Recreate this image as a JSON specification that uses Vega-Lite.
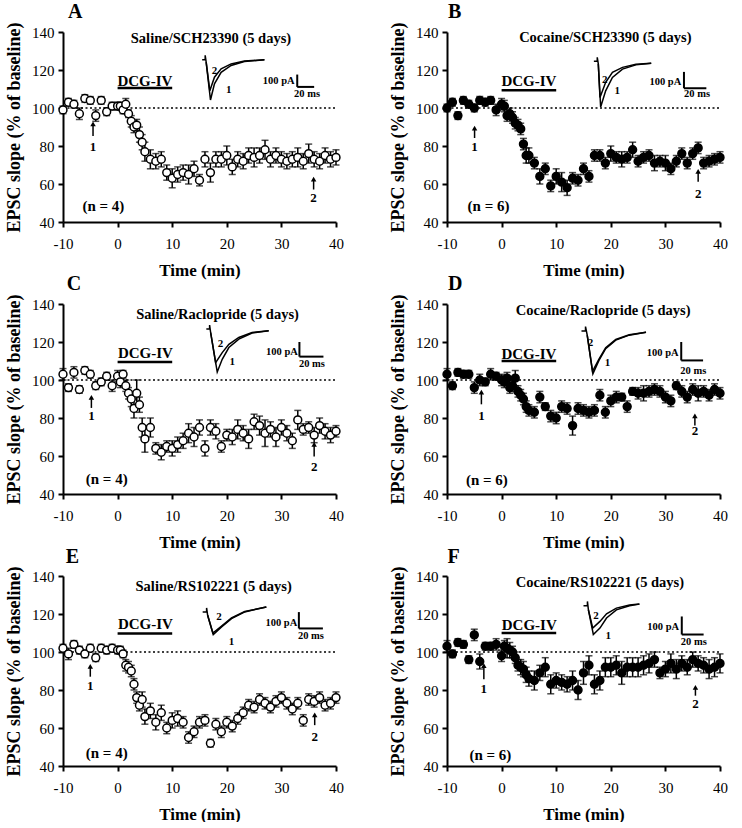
{
"$schema": "https://vega.github.io/schema/vega-lite/v6.json",
"background": "white",
"padding": {"left": 5, "top": 0, "right": 5, "bottom": 0},
"columns": 2,
"spacing": {"row": 82, "column": 111},
"bounds": "flush",
"data": {"values": [
{"k":"pt","panel":"A","t":-10,"v":99,"e":2},{"k":"pt","panel":"A","t":-9,"v":103,"e":2},{"k":"pt","panel":"A","t":-8,"v":102,"e":2},{"k":"pt","panel":"A","t":-7,"v":97,"e":3},{"k":"pt","panel":"A","t":-6,"v":105,"e":2},{"k":"pt","panel":"A","t":-5,"v":104,"e":2},{"k":"pt","panel":"A","t":-4,"v":96,"e":3},{"k":"pt","panel":"A","t":-3,"v":104,"e":2},{"k":"pt","panel":"A","t":-2,"v":98,"e":2},{"k":"pt","panel":"A","t":-1,"v":101,"e":2},
{"k":"pt","panel":"A","t":0,"v":101,"e":2},{"k":"pt","panel":"A","t":0.5,"v":101,"e":2},{"k":"pt","panel":"A","t":1,"v":99,"e":2},{"k":"pt","panel":"A","t":1.5,"v":102,"e":3},{"k":"pt","panel":"A","t":2,"v":97,"e":2},{"k":"pt","panel":"A","t":2.5,"v":93,"e":3},{"k":"pt","panel":"A","t":3,"v":90,"e":3},{"k":"pt","panel":"A","t":3.5,"v":91,"e":3},{"k":"pt","panel":"A","t":4,"v":86,"e":4},{"k":"pt","panel":"A","t":4.5,"v":82,"e":4},
{"k":"pt","panel":"A","t":5,"v":77,"e":5},{"k":"pt","panel":"A","t":6,"v":73,"e":5},{"k":"pt","panel":"A","t":7,"v":72,"e":4},{"k":"pt","panel":"A","t":8,"v":73,"e":4},{"k":"pt","panel":"A","t":9,"v":66,"e":4},{"k":"pt","panel":"A","t":10,"v":63,"e":5},{"k":"pt","panel":"A","t":11,"v":65,"e":4},{"k":"pt","panel":"A","t":12,"v":66,"e":4},{"k":"pt","panel":"A","t":13,"v":65,"e":5},{"k":"pt","panel":"A","t":14,"v":68,"e":4},{"k":"pt","panel":"A","t":15,"v":62,"e":3},{"k":"pt","panel":"A","t":16,"v":73,"e":4},{"k":"pt","panel":"A","t":17,"v":66,"e":5},{"k":"pt","panel":"A","t":18,"v":73,"e":4},{"k":"pt","panel":"A","t":19,"v":73,"e":4},{"k":"pt","panel":"A","t":20,"v":75,"e":5},{"k":"pt","panel":"A","t":21,"v":69,"e":4},{"k":"pt","panel":"A","t":22,"v":73,"e":4},{"k":"pt","panel":"A","t":23,"v":72,"e":4},{"k":"pt","panel":"A","t":24,"v":75,"e":4},{"k":"pt","panel":"A","t":25,"v":74,"e":5},{"k":"pt","panel":"A","t":26,"v":75,"e":4},{"k":"pt","panel":"A","t":27,"v":78,"e":5},{"k":"pt","panel":"A","t":28,"v":73,"e":4},{"k":"pt","panel":"A","t":29,"v":75,"e":4},{"k":"pt","panel":"A","t":30,"v":73,"e":4},{"k":"pt","panel":"A","t":31,"v":72,"e":4},{"k":"pt","panel":"A","t":32,"v":73,"e":4},{"k":"pt","panel":"A","t":33,"v":74,"e":5},{"k":"pt","panel":"A","t":34,"v":72,"e":4},{"k":"pt","panel":"A","t":35,"v":76,"e":5},{"k":"pt","panel":"A","t":36,"v":73,"e":4},{"k":"pt","panel":"A","t":37,"v":72,"e":4},{"k":"pt","panel":"A","t":38,"v":75,"e":4},{"k":"pt","panel":"A","t":39,"v":73,"e":4},{"k":"pt","panel":"A","t":40,"v":74,"e":4},

{"k":"pt","panel":"B","t":-10,"v":100,"e":2},{"k":"pt","panel":"B","t":-9,"v":103,"e":2},{"k":"pt","panel":"B","t":-8,"v":96,"e":2},{"k":"pt","panel":"B","t":-7,"v":104,"e":2},{"k":"pt","panel":"B","t":-6,"v":102,"e":2},{"k":"pt","panel":"B","t":-5,"v":100,"e":2},{"k":"pt","panel":"B","t":-4,"v":104,"e":2},{"k":"pt","panel":"B","t":-3,"v":103,"e":2},{"k":"pt","panel":"B","t":-2,"v":104,"e":2},{"k":"pt","panel":"B","t":-1,"v":99,"e":3},
{"k":"pt","panel":"B","t":0,"v":102,"e":3},{"k":"pt","panel":"B","t":0.5,"v":101,"e":3},{"k":"pt","panel":"B","t":1,"v":96,"e":3},{"k":"pt","panel":"B","t":1.5,"v":97,"e":3},{"k":"pt","panel":"B","t":2,"v":95,"e":3},{"k":"pt","panel":"B","t":2.5,"v":92,"e":3},{"k":"pt","panel":"B","t":3,"v":91,"e":3},{"k":"pt","panel":"B","t":3.5,"v":89,"e":3},{"k":"pt","panel":"B","t":4,"v":81,"e":3},{"k":"pt","panel":"B","t":4.5,"v":75,"e":4},
{"k":"pt","panel":"B","t":5,"v":75,"e":4},{"k":"pt","panel":"B","t":6,"v":71,"e":3},{"k":"pt","panel":"B","t":7,"v":64,"e":4},{"k":"pt","panel":"B","t":8,"v":68,"e":3},{"k":"pt","panel":"B","t":9,"v":59,"e":3},{"k":"pt","panel":"B","t":10,"v":64,"e":4},{"k":"pt","panel":"B","t":11,"v":61,"e":5},{"k":"pt","panel":"B","t":12,"v":58,"e":4},{"k":"pt","panel":"B","t":13,"v":63,"e":3},{"k":"pt","panel":"B","t":14,"v":62,"e":3},{"k":"pt","panel":"B","t":15,"v":68,"e":3},{"k":"pt","panel":"B","t":16,"v":64,"e":3},{"k":"pt","panel":"B","t":17,"v":75,"e":3},{"k":"pt","panel":"B","t":18,"v":75,"e":3},{"k":"pt","panel":"B","t":19,"v":71,"e":3},{"k":"pt","panel":"B","t":20,"v":76,"e":4},{"k":"pt","panel":"B","t":21,"v":74,"e":3},{"k":"pt","panel":"B","t":22,"v":73,"e":4},{"k":"pt","panel":"B","t":23,"v":74,"e":3},{"k":"pt","panel":"B","t":24,"v":78,"e":4},{"k":"pt","panel":"B","t":25,"v":72,"e":3},{"k":"pt","panel":"B","t":26,"v":74,"e":3},{"k":"pt","panel":"B","t":27,"v":75,"e":3},{"k":"pt","panel":"B","t":28,"v":71,"e":4},{"k":"pt","panel":"B","t":29,"v":72,"e":3},{"k":"pt","panel":"B","t":30,"v":71,"e":4},{"k":"pt","panel":"B","t":31,"v":68,"e":3},{"k":"pt","panel":"B","t":32,"v":72,"e":3},{"k":"pt","panel":"B","t":33,"v":76,"e":3},{"k":"pt","panel":"B","t":34,"v":71,"e":3},{"k":"pt","panel":"B","t":35,"v":76,"e":3},{"k":"pt","panel":"B","t":36,"v":79,"e":3},{"k":"pt","panel":"B","t":37,"v":71,"e":3},{"k":"pt","panel":"B","t":38,"v":72,"e":3},{"k":"pt","panel":"B","t":39,"v":73,"e":3},{"k":"pt","panel":"B","t":40,"v":74,"e":3},

{"k":"pt","panel":"C","t":-10,"v":103,"e":3},{"k":"pt","panel":"C","t":-9,"v":96,"e":2},{"k":"pt","panel":"C","t":-8,"v":104,"e":3},{"k":"pt","panel":"C","t":-7,"v":95,"e":2},{"k":"pt","panel":"C","t":-6,"v":105,"e":2},{"k":"pt","panel":"C","t":-5,"v":103,"e":2},{"k":"pt","panel":"C","t":-4,"v":97,"e":2},{"k":"pt","panel":"C","t":-3,"v":99,"e":2},{"k":"pt","panel":"C","t":-2,"v":102,"e":2},{"k":"pt","panel":"C","t":-1,"v":97,"e":3},
{"k":"pt","panel":"C","t":0,"v":102,"e":3},{"k":"pt","panel":"C","t":0.5,"v":99,"e":3},{"k":"pt","panel":"C","t":1,"v":103,"e":2},{"k":"pt","panel":"C","t":1.5,"v":97,"e":3},{"k":"pt","panel":"C","t":2,"v":93,"e":3},{"k":"pt","panel":"C","t":2.5,"v":90,"e":4},{"k":"pt","panel":"C","t":3,"v":85,"e":5},{"k":"pt","panel":"C","t":3.5,"v":93,"e":7},{"k":"pt","panel":"C","t":4,"v":87,"e":4},{"k":"pt","panel":"C","t":4.5,"v":75,"e":5},
{"k":"pt","panel":"C","t":5,"v":69,"e":7},{"k":"pt","panel":"C","t":6,"v":75,"e":5},{"k":"pt","panel":"C","t":7,"v":64,"e":3},{"k":"pt","panel":"C","t":8,"v":62,"e":4},{"k":"pt","panel":"C","t":9,"v":65,"e":3},{"k":"pt","panel":"C","t":10,"v":64,"e":4},{"k":"pt","panel":"C","t":11,"v":66,"e":4},{"k":"pt","panel":"C","t":12,"v":68,"e":4},{"k":"pt","panel":"C","t":13,"v":72,"e":5},{"k":"pt","panel":"C","t":14,"v":70,"e":5},{"k":"pt","panel":"C","t":15,"v":75,"e":4},{"k":"pt","panel":"C","t":16,"v":64,"e":4},{"k":"pt","panel":"C","t":17,"v":75,"e":4},{"k":"pt","panel":"C","t":18,"v":73,"e":4},{"k":"pt","panel":"C","t":19,"v":65,"e":3},{"k":"pt","panel":"C","t":20,"v":71,"e":3},{"k":"pt","panel":"C","t":21,"v":70,"e":4},{"k":"pt","panel":"C","t":22,"v":74,"e":5},{"k":"pt","panel":"C","t":23,"v":72,"e":4},{"k":"pt","panel":"C","t":24,"v":69,"e":5},{"k":"pt","panel":"C","t":25,"v":78,"e":4},{"k":"pt","panel":"C","t":26,"v":76,"e":5},{"k":"pt","panel":"C","t":27,"v":72,"e":7},{"k":"pt","panel":"C","t":28,"v":74,"e":4},{"k":"pt","panel":"C","t":29,"v":70,"e":5},{"k":"pt","panel":"C","t":30,"v":75,"e":4},{"k":"pt","panel":"C","t":31,"v":72,"e":4},{"k":"pt","panel":"C","t":32,"v":68,"e":4},{"k":"pt","panel":"C","t":33,"v":79,"e":5},{"k":"pt","panel":"C","t":34,"v":74,"e":3},{"k":"pt","panel":"C","t":35,"v":75,"e":3},{"k":"pt","panel":"C","t":36,"v":71,"e":4},{"k":"pt","panel":"C","t":37,"v":76,"e":4},{"k":"pt","panel":"C","t":38,"v":73,"e":4},{"k":"pt","panel":"C","t":39,"v":71,"e":4},{"k":"pt","panel":"C","t":40,"v":73,"e":3},

{"k":"pt","panel":"D","t":-10,"v":103,"e":3},{"k":"pt","panel":"D","t":-9,"v":97,"e":2},{"k":"pt","panel":"D","t":-8,"v":104,"e":2},{"k":"pt","panel":"D","t":-7,"v":103,"e":2},{"k":"pt","panel":"D","t":-6,"v":103,"e":2},{"k":"pt","panel":"D","t":-5,"v":96,"e":3},{"k":"pt","panel":"D","t":-4,"v":100,"e":3},{"k":"pt","panel":"D","t":-3,"v":99,"e":2},{"k":"pt","panel":"D","t":-2,"v":103,"e":3},{"k":"pt","panel":"D","t":-1,"v":102,"e":2},
{"k":"pt","panel":"D","t":0,"v":100,"e":3},{"k":"pt","panel":"D","t":0.5,"v":99,"e":3},{"k":"pt","panel":"D","t":1,"v":101,"e":3},{"k":"pt","panel":"D","t":1.5,"v":96,"e":3},{"k":"pt","panel":"D","t":2,"v":97,"e":3},{"k":"pt","panel":"D","t":2.5,"v":101,"e":4},{"k":"pt","panel":"D","t":3,"v":94,"e":3},{"k":"pt","panel":"D","t":3.5,"v":92,"e":3},{"k":"pt","panel":"D","t":4,"v":90,"e":3},{"k":"pt","panel":"D","t":4.5,"v":86,"e":3},
{"k":"pt","panel":"D","t":5,"v":84,"e":3},{"k":"pt","panel":"D","t":6,"v":83,"e":3},{"k":"pt","panel":"D","t":7,"v":91,"e":3},{"k":"pt","panel":"D","t":8,"v":86,"e":2},{"k":"pt","panel":"D","t":9,"v":81,"e":3},{"k":"pt","panel":"D","t":10,"v":80,"e":3},{"k":"pt","panel":"D","t":11,"v":86,"e":3},{"k":"pt","panel":"D","t":12,"v":85,"e":3},{"k":"pt","panel":"D","t":13,"v":76,"e":5},{"k":"pt","panel":"D","t":14,"v":85,"e":3},{"k":"pt","panel":"D","t":15,"v":84,"e":3},{"k":"pt","panel":"D","t":16,"v":83,"e":3},{"k":"pt","panel":"D","t":17,"v":84,"e":3},{"k":"pt","panel":"D","t":18,"v":92,"e":3},{"k":"pt","panel":"D","t":19,"v":83,"e":3},{"k":"pt","panel":"D","t":20,"v":89,"e":3},{"k":"pt","panel":"D","t":21,"v":91,"e":3},{"k":"pt","panel":"D","t":22,"v":91,"e":2},{"k":"pt","panel":"D","t":23,"v":86,"e":3},{"k":"pt","panel":"D","t":24,"v":94,"e":2},{"k":"pt","panel":"D","t":25,"v":93,"e":3},{"k":"pt","panel":"D","t":26,"v":93,"e":4},{"k":"pt","panel":"D","t":27,"v":94,"e":3},{"k":"pt","panel":"D","t":28,"v":95,"e":3},{"k":"pt","panel":"D","t":29,"v":94,"e":3},{"k":"pt","panel":"D","t":30,"v":91,"e":3},{"k":"pt","panel":"D","t":31,"v":89,"e":3},{"k":"pt","panel":"D","t":32,"v":97,"e":2},{"k":"pt","panel":"D","t":33,"v":94,"e":3},{"k":"pt","panel":"D","t":34,"v":91,"e":3},{"k":"pt","panel":"D","t":35,"v":95,"e":3},{"k":"pt","panel":"D","t":36,"v":93,"e":4},{"k":"pt","panel":"D","t":37,"v":94,"e":3},{"k":"pt","panel":"D","t":38,"v":92,"e":3},{"k":"pt","panel":"D","t":39,"v":95,"e":3},{"k":"pt","panel":"D","t":40,"v":93,"e":3},

{"k":"pt","panel":"E","t":-10,"v":102,"e":2},{"k":"pt","panel":"E","t":-9,"v":99,"e":3},{"k":"pt","panel":"E","t":-8,"v":104,"e":2},{"k":"pt","panel":"E","t":-7,"v":101,"e":2},{"k":"pt","panel":"E","t":-6,"v":99,"e":2},{"k":"pt","panel":"E","t":-5,"v":102,"e":2},{"k":"pt","panel":"E","t":-4,"v":97,"e":2},{"k":"pt","panel":"E","t":-3,"v":102,"e":2},{"k":"pt","panel":"E","t":-2,"v":101,"e":2},{"k":"pt","panel":"E","t":-1,"v":102,"e":2},
{"k":"pt","panel":"E","t":0,"v":101,"e":2},{"k":"pt","panel":"E","t":0.5,"v":101,"e":2},{"k":"pt","panel":"E","t":1,"v":99,"e":2},{"k":"pt","panel":"E","t":1.5,"v":93,"e":3},{"k":"pt","panel":"E","t":2,"v":92,"e":3},{"k":"pt","panel":"E","t":2.5,"v":90,"e":3},{"k":"pt","panel":"E","t":3,"v":83,"e":3},{"k":"pt","panel":"E","t":3.5,"v":76,"e":3},{"k":"pt","panel":"E","t":4,"v":72,"e":3},{"k":"pt","panel":"E","t":4.5,"v":75,"e":4},
{"k":"pt","panel":"E","t":5,"v":66,"e":4},{"k":"pt","panel":"E","t":6,"v":69,"e":4},{"k":"pt","panel":"E","t":7,"v":63,"e":4},{"k":"pt","panel":"E","t":8,"v":68,"e":4},{"k":"pt","panel":"E","t":9,"v":60,"e":3},{"k":"pt","panel":"E","t":10,"v":64,"e":4},{"k":"pt","panel":"E","t":11,"v":65,"e":4},{"k":"pt","panel":"E","t":12,"v":63,"e":3},{"k":"pt","panel":"E","t":13,"v":55,"e":3},{"k":"pt","panel":"E","t":14,"v":58,"e":3},{"k":"pt","panel":"E","t":15,"v":63,"e":3},{"k":"pt","panel":"E","t":16,"v":64,"e":3},{"k":"pt","panel":"E","t":17,"v":52,"e":2},{"k":"pt","panel":"E","t":18,"v":62,"e":3},{"k":"pt","panel":"E","t":19,"v":58,"e":3},{"k":"pt","panel":"E","t":20,"v":63,"e":3},{"k":"pt","panel":"E","t":21,"v":61,"e":3},{"k":"pt","panel":"E","t":22,"v":65,"e":3},{"k":"pt","panel":"E","t":23,"v":68,"e":3},{"k":"pt","panel":"E","t":24,"v":72,"e":3},{"k":"pt","panel":"E","t":25,"v":71,"e":3},{"k":"pt","panel":"E","t":26,"v":75,"e":3},{"k":"pt","panel":"E","t":27,"v":73,"e":3},{"k":"pt","panel":"E","t":28,"v":71,"e":3},{"k":"pt","panel":"E","t":29,"v":74,"e":3},{"k":"pt","panel":"E","t":30,"v":76,"e":3},{"k":"pt","panel":"E","t":31,"v":73,"e":3},{"k":"pt","panel":"E","t":32,"v":70,"e":3},{"k":"pt","panel":"E","t":33,"v":73,"e":3},{"k":"pt","panel":"E","t":34,"v":64,"e":3},{"k":"pt","panel":"E","t":35,"v":75,"e":3},{"k":"pt","panel":"E","t":36,"v":74,"e":3},{"k":"pt","panel":"E","t":37,"v":76,"e":3},{"k":"pt","panel":"E","t":38,"v":72,"e":3},{"k":"pt","panel":"E","t":39,"v":73,"e":3},{"k":"pt","panel":"E","t":40,"v":76,"e":3},

{"k":"pt","panel":"F","t":-10,"v":103,"e":3},{"k":"pt","panel":"F","t":-9,"v":99,"e":2},{"k":"pt","panel":"F","t":-8,"v":105,"e":2},{"k":"pt","panel":"F","t":-7,"v":104,"e":2},{"k":"pt","panel":"F","t":-6,"v":96,"e":2},{"k":"pt","panel":"F","t":-5,"v":109,"e":3},{"k":"pt","panel":"F","t":-4,"v":95,"e":4},{"k":"pt","panel":"F","t":-3,"v":103,"e":2},{"k":"pt","panel":"F","t":-2,"v":103,"e":2},{"k":"pt","panel":"F","t":-1,"v":104,"e":3},
{"k":"pt","panel":"F","t":0,"v":98,"e":3},{"k":"pt","panel":"F","t":0.5,"v":103,"e":3},{"k":"pt","panel":"F","t":1,"v":102,"e":5},{"k":"pt","panel":"F","t":1.5,"v":101,"e":4},{"k":"pt","panel":"F","t":2,"v":100,"e":3},{"k":"pt","panel":"F","t":2.5,"v":97,"e":3},{"k":"pt","panel":"F","t":3,"v":93,"e":3},{"k":"pt","panel":"F","t":3.5,"v":92,"e":4},{"k":"pt","panel":"F","t":4,"v":91,"e":4},{"k":"pt","panel":"F","t":4.5,"v":88,"e":4},
{"k":"pt","panel":"F","t":5,"v":86,"e":4},{"k":"pt","panel":"F","t":6,"v":85,"e":5},{"k":"pt","panel":"F","t":7,"v":89,"e":4},{"k":"pt","panel":"F","t":8,"v":92,"e":5},{"k":"pt","panel":"F","t":9,"v":83,"e":5},{"k":"pt","panel":"F","t":10,"v":85,"e":4},{"k":"pt","panel":"F","t":11,"v":84,"e":4},{"k":"pt","panel":"F","t":12,"v":83,"e":4},{"k":"pt","panel":"F","t":13,"v":85,"e":5},{"k":"pt","panel":"F","t":14,"v":80,"e":5},{"k":"pt","panel":"F","t":15,"v":89,"e":6},{"k":"pt","panel":"F","t":16,"v":93,"e":5},{"k":"pt","panel":"F","t":17,"v":83,"e":5},{"k":"pt","panel":"F","t":18,"v":85,"e":5},{"k":"pt","panel":"F","t":19,"v":92,"e":5},{"k":"pt","panel":"F","t":20,"v":92,"e":5},{"k":"pt","panel":"F","t":21,"v":93,"e":5},{"k":"pt","panel":"F","t":22,"v":89,"e":6},{"k":"pt","panel":"F","t":23,"v":92,"e":5},{"k":"pt","panel":"F","t":24,"v":92,"e":5},{"k":"pt","panel":"F","t":25,"v":92,"e":5},{"k":"pt","panel":"F","t":26,"v":93,"e":5},{"k":"pt","panel":"F","t":27,"v":94,"e":5},{"k":"pt","panel":"F","t":28,"v":96,"e":4},{"k":"pt","panel":"F","t":29,"v":89,"e":3},{"k":"pt","panel":"F","t":30,"v":91,"e":4},{"k":"pt","panel":"F","t":31,"v":94,"e":5},{"k":"pt","panel":"F","t":32,"v":91,"e":5},{"k":"pt","panel":"F","t":33,"v":94,"e":4},{"k":"pt","panel":"F","t":34,"v":92,"e":4},{"k":"pt","panel":"F","t":35,"v":96,"e":4},{"k":"pt","panel":"F","t":36,"v":94,"e":4},{"k":"pt","panel":"F","t":37,"v":93,"e":4},{"k":"pt","panel":"F","t":38,"v":91,"e":5},{"k":"pt","panel":"F","t":39,"v":92,"e":5},{"k":"pt","panel":"F","t":40,"v":94,"e":5},

{"k":"base","panel":"A","t":-10,"t2":40,"v":100},{"k":"base","panel":"B","t":-10,"t2":40,"v":100},{"k":"base","panel":"C","t":-10,"t2":40,"v":100},{"k":"base","panel":"D","t":-10,"t2":40,"v":100},{"k":"base","panel":"E","t":-10,"t2":40,"v":100},{"k":"base","panel":"F","t":-10,"t2":40,"v":100},

{"k":"bar","panel":"A","t":0,"t2":10,"v":110.5,"v2":110.5},{"k":"sc","panel":"A","t":32.9,"t2":32.9,"v":111.1,"v2":117.6},{"k":"sc","panel":"A","t":32.9,"t2":36.0,"v":111.1,"v2":111.1},{"k":"sh","panel":"A","t":-4.5,"t2":-4.5,"v":85.3,"v2":91.7},{"k":"sh","panel":"A","t":35.9,"t2":35.9,"v":57.1,"v2":62.6},
{"k":"bar","panel":"B","t":0,"t2":10,"v":109.4,"v2":109.4},{"k":"sc","panel":"B","t":33.4,"t2":33.4,"v":110.4,"v2":119},{"k":"sc","panel":"B","t":33.4,"t2":37.5,"v":110.4,"v2":110.4},{"k":"sh","panel":"B","t":-4.95,"t2":-4.95,"v":84.2,"v2":89.4},{"k":"sh","panel":"B","t":36,"t2":36,"v":61.2,"v2":66.7},
{"k":"bar","panel":"C","t":0,"t2":10,"v":109.5,"v2":109.5},{"k":"sc","panel":"C","t":33.3,"t2":33.3,"v":112.3,"v2":120},{"k":"sc","panel":"C","t":33.3,"t2":37.7,"v":112.3,"v2":112.3},{"k":"sh","panel":"C","t":-4.8,"t2":-4.8,"v":85.3,"v2":90.8},{"k":"sh","panel":"C","t":36,"t2":36,"v":59.8,"v2":66.1},
{"k":"bar","panel":"D","t":0,"t2":10,"v":110,"v2":110},{"k":"sc","panel":"D","t":32.9,"t2":32.9,"v":110.3,"v2":120},{"k":"sc","panel":"D","t":32.9,"t2":36.9,"v":110.3,"v2":110.3},{"k":"sh","panel":"D","t":-3.7,"t2":-3.7,"v":87.2,"v2":93.6},{"k":"sh","panel":"D","t":35.4,"t2":35.4,"v":76,"v2":81.1},
{"k":"bar","panel":"E","t":0,"t2":10,"v":109.7,"v2":109.7},{"k":"sc","panel":"E","t":33.2,"t2":33.2,"v":112.4,"v2":121},{"k":"sc","panel":"E","t":33.2,"t2":37.6,"v":112.4,"v2":112.4},{"k":"sh","panel":"E","t":-5,"t2":-5,"v":87,"v2":92.4},{"k":"sh","panel":"E","t":36.1,"t2":36.1,"v":61.5,"v2":66.9},
{"k":"bar","panel":"F","t":0,"t2":10,"v":110,"v2":110},{"k":"sc","panel":"F","t":33,"t2":33,"v":109.2,"v2":118.7},{"k":"sc","panel":"F","t":33,"t2":37,"v":109.2,"v2":109.2},{"k":"sh","panel":"F","t":-3.25,"t2":-3.25,"v":85.6,"v2":92.8},{"k":"sh","panel":"F","t":35.5,"t2":35.5,"v":77,"v2":81.4},

{"k":"head","panel":"A","t":-4.5,"v":91.7},{"k":"head","panel":"A","t":35.9,"v":62.6},
{"k":"head","panel":"B","t":-4.95,"v":89.4},{"k":"head","panel":"B","t":36,"v":66.7},
{"k":"head","panel":"C","t":-4.8,"v":90.8},{"k":"head","panel":"C","t":36,"v":66.1},
{"k":"head","panel":"D","t":-3.7,"v":93.6},{"k":"head","panel":"D","t":35.4,"v":81.1},
{"k":"head","panel":"E","t":-5,"v":92.4},{"k":"head","panel":"E","t":36.1,"v":66.9},
{"k":"head","panel":"F","t":-3.25,"v":92.8},{"k":"head","panel":"F","t":35.5,"v":81.4},

{"k":"ltr","panel":"A","t":-9.1,"v":150.7,"s":"A"},{"k":"ltr","panel":"B","t":-9.8,"v":150.7,"s":"B"},{"k":"ltr","panel":"C","t":-9.3,"v":150.7,"s":"C"},{"k":"ltr","panel":"D","t":-9.8,"v":150.7,"s":"D"},{"k":"ltr","panel":"E","t":-9.5,"v":149.8,"s":"E"},{"k":"ltr","panel":"F","t":-9.9,"v":149.8,"s":"F"},

{"k":"ttl","panel":"A","t":17.1,"v":136.5,"s":"Saline/SCH23390 (5 days)"},{"k":"dcg","panel":"A","t":5,"v":114,"s":"DCG-IV"},{"k":"n","panel":"A","t":-2.6,"v":48.3,"s":"(n = 4)"},{"k":"al","panel":"A","t":-4.5,"v":79.5,"s":"1"},{"k":"al","panel":"A","t":35.9,"v":52.7,"s":"2"},{"k":"sb","panel":"A","t":29.5,"v":114.4,"s":"100 pA"},{"k":"sb","panel":"A","t":34.7,"v":107.6,"s":"20 ms"},{"k":"tl","panel":"A","t":17.74,"v":119.7,"s":"2"},{"k":"tl","panel":"A","t":20.37,"v":109.5,"s":"1"},
{"k":"ttl","panel":"B","t":19.0,"v":137,"s":"Cocaine/SCH23390 (5 days)"},{"k":"dcg","panel":"B","t":5,"v":114.3,"s":"DCG-IV"},{"k":"n","panel":"B","t":-2.4,"v":48.5,"s":"(n = 6)"},{"k":"al","panel":"B","t":-4.95,"v":79.5,"s":"1"},{"k":"al","panel":"B","t":36,"v":55,"s":"2"},{"k":"sb","panel":"B","t":30.0,"v":113.8,"s":"100 pA"},{"k":"sb","panel":"B","t":35.8,"v":107.3,"s":"20 ms"},{"k":"tl","panel":"B","t":18.9,"v":114.7,"s":"2"},{"k":"tl","panel":"B","t":21.2,"v":109,"s":"1"},
{"k":"ttl","panel":"C","t":18.3,"v":134,"s":"Saline/Raclopride (5 days)"},{"k":"dcg","panel":"C","t":5.1,"v":114.4,"s":"DCG-IV"},{"k":"n","panel":"C","t":-2.0,"v":47.8,"s":"(n = 4)"},{"k":"al","panel":"C","t":-4.8,"v":80.8,"s":"1"},{"k":"al","panel":"C","t":36,"v":54.1,"s":"2"},{"k":"sb","panel":"C","t":30.1,"v":114.8,"s":"100 pA"},{"k":"sb","panel":"C","t":35.6,"v":108.6,"s":"20 ms"},{"k":"tl","panel":"C","t":18.86,"v":118.8,"s":"2"},{"k":"tl","panel":"C","t":20.98,"v":109.7,"s":"1"},
{"k":"ttl","panel":"D","t":18.6,"v":136.4,"s":"Cocaine/Raclopride (5 days)"},{"k":"dcg","panel":"D","t":5,"v":113.5,"s":"DCG-IV"},{"k":"n","panel":"D","t":-2.7,"v":47.5,"s":"(n = 6)"},{"k":"al","panel":"D","t":-3.7,"v":80.9,"s":"1"},{"k":"al","panel":"D","t":35.4,"v":73,"s":"2"},{"k":"sb","panel":"D","t":29.5,"v":114.2,"s":"100 pA"},{"k":"sb","panel":"D","t":35.1,"v":104.8,"s":"20 ms"},{"k":"tl","panel":"D","t":16.3,"v":119.7,"s":"2"},{"k":"tl","panel":"D","t":19.4,"v":109,"s":"1"},
{"k":"ttl","panel":"E","t":17.6,"v":134.2,"s":"Saline/RS102221 (5 days)"},{"k":"dcg","panel":"E","t":5.1,"v":114.8,"s":"DCG-IV"},{"k":"n","panel":"E","t":-2.0,"v":46.7,"s":"(n = 4)"},{"k":"al","panel":"E","t":-5,"v":82,"s":"1"},{"k":"al","panel":"E","t":36.1,"v":55.4,"s":"2"},{"k":"sb","panel":"E","t":30.0,"v":115.5,"s":"100 pA"},{"k":"sb","panel":"E","t":35.4,"v":108.5,"s":"20 ms"},{"k":"tl","panel":"E","t":18.55,"v":118.5,"s":"2"},{"k":"tl","panel":"E","t":20.86,"v":105.3,"s":"1"},
{"k":"ttl","panel":"F","t":18.0,"v":136.5,"s":"Cocaine/RS102221 (5 days)"},{"k":"dcg","panel":"F","t":5.06,"v":114.4,"s":"DCG-IV"},{"k":"n","panel":"F","t":-2.05,"v":45.6,"s":"(n = 6)"},{"k":"al","panel":"F","t":-3.25,"v":80.4,"s":"1"},{"k":"al","panel":"F","t":35.5,"v":72.6,"s":"2"},{"k":"sb","panel":"F","t":29.6,"v":113.2,"s":"100 pA"},{"k":"sb","panel":"F","t":35.2,"v":105.2,"s":"20 ms"},{"k":"tl","panel":"F","t":17.29,"v":118.7,"s":"2"},{"k":"tl","panel":"F","t":19.52,"v":108.3,"s":"1"},

{"k":"tr","panel":"A","s":"1","o":1,"t":15.49,"v":125.4},{"k":"tr","panel":"A","s":"1","o":2,"t":16.04,"v":125.4},{"k":"tr","panel":"A","s":"1","o":3,"t":16.04,"v":127.7},{"k":"tr","panel":"A","s":"1","o":4,"t":16.22,"v":124.1},{"k":"tr","panel":"A","s":"1","o":5,"t":17.01,"v":104.2},{"k":"tr","panel":"A","s":"1","o":6,"t":17.74,"v":112.7},{"k":"tr","panel":"A","s":"1","o":7,"t":18.96,"v":118.8},{"k":"tr","panel":"A","s":"1","o":8,"t":20.79,"v":122.4},{"k":"tr","panel":"A","s":"1","o":9,"t":23.23,"v":124.5},{"k":"tr","panel":"A","s":"1","o":10,"t":26.89,"v":125.4},
{"k":"tr","panel":"A","s":"2","o":1,"t":16.22,"v":124.1},{"k":"tr","panel":"A","s":"2","o":2,"t":16.89,"v":109.1},{"k":"tr","panel":"A","s":"2","o":3,"t":17.74,"v":116.2},{"k":"tr","panel":"A","s":"2","o":4,"t":18.96,"v":120.6},{"k":"tr","panel":"A","s":"2","o":5,"t":20.79,"v":123.2},{"k":"tr","panel":"A","s":"2","o":6,"t":23.23,"v":124.7},{"k":"tr","panel":"A","s":"2","o":7,"t":26.89,"v":125.4},
{"k":"tr","panel":"B","s":"1","o":1,"t":16.9,"v":124.6},{"k":"tr","panel":"B","s":"1","o":2,"t":17.52,"v":124.6},{"k":"tr","panel":"B","s":"1","o":3,"t":17.52,"v":126.7},{"k":"tr","panel":"B","s":"1","o":4,"t":17.71,"v":123.2},{"k":"tr","panel":"B","s":"1","o":5,"t":18.14,"v":100.5},{"k":"tr","panel":"B","s":"1","o":6,"t":19.06,"v":109},{"k":"tr","panel":"B","s":"1","o":7,"t":20.3,"v":116.1},{"k":"tr","panel":"B","s":"1","o":8,"t":22.14,"v":120.5},{"k":"tr","panel":"B","s":"1","o":9,"t":24.6,"v":122.7},{"k":"tr","panel":"B","s":"1","o":10,"t":27.4,"v":123.5},
{"k":"tr","panel":"B","s":"2","o":1,"t":17.71,"v":123.2},{"k":"tr","panel":"B","s":"2","o":2,"t":18.02,"v":105.5},{"k":"tr","panel":"B","s":"2","o":3,"t":19.06,"v":113.5},{"k":"tr","panel":"B","s":"2","o":4,"t":20.3,"v":118.8},{"k":"tr","panel":"B","s":"2","o":5,"t":22.14,"v":121.4},{"k":"tr","panel":"B","s":"2","o":6,"t":24.6,"v":123},{"k":"tr","panel":"B","s":"2","o":7,"t":27.4,"v":123.5},
{"k":"tr","panel":"C","s":"1","o":1,"t":16.25,"v":126.8},{"k":"tr","panel":"C","s":"1","o":2,"t":16.85,"v":126.8},{"k":"tr","panel":"C","s":"1","o":3,"t":16.85,"v":128.9},{"k":"tr","panel":"C","s":"1","o":4,"t":17.04,"v":125},{"k":"tr","panel":"C","s":"1","o":5,"t":18.25,"v":104.2},{"k":"tr","panel":"C","s":"1","o":6,"t":19.16,"v":110.9},{"k":"tr","panel":"C","s":"1","o":7,"t":20.38,"v":117.1},{"k":"tr","panel":"C","s":"1","o":8,"t":22.2,"v":121.5},{"k":"tr","panel":"C","s":"1","o":9,"t":24.63,"v":124.7},{"k":"tr","panel":"C","s":"1","o":10,"t":27.67,"v":125.9},
{"k":"tr","panel":"C","s":"2","o":1,"t":17.04,"v":125},{"k":"tr","panel":"C","s":"2","o":2,"t":17.95,"v":109.1},{"k":"tr","panel":"C","s":"2","o":3,"t":19.16,"v":114.4},{"k":"tr","panel":"C","s":"2","o":4,"t":20.38,"v":118.8},{"k":"tr","panel":"C","s":"2","o":5,"t":22.2,"v":122.4},{"k":"tr","panel":"C","s":"2","o":6,"t":24.63,"v":125},{"k":"tr","panel":"C","s":"2","o":7,"t":27.67,"v":125.9},
{"k":"tr","panel":"D","s":"1","o":1,"t":14.63,"v":125.8},{"k":"tr","panel":"D","s":"1","o":2,"t":15.37,"v":125.8},{"k":"tr","panel":"D","s":"1","o":3,"t":15.37,"v":128.1},{"k":"tr","panel":"D","s":"1","o":4,"t":15.68,"v":123.6},{"k":"tr","panel":"D","s":"1","o":5,"t":16.72,"v":103.2},{"k":"tr","panel":"D","s":"1","o":6,"t":17.83,"v":110.3},{"k":"tr","panel":"D","s":"1","o":7,"t":19.06,"v":116.5},{"k":"tr","panel":"D","s":"1","o":8,"t":20.91,"v":121},{"k":"tr","panel":"D","s":"1","o":9,"t":23.37,"v":123.6},{"k":"tr","panel":"D","s":"1","o":10,"t":26.45,"v":125.1},
{"k":"tr","panel":"D","s":"2","o":1,"t":15.68,"v":123.6},{"k":"tr","panel":"D","s":"2","o":2,"t":16.65,"v":104.6},{"k":"tr","panel":"D","s":"2","o":3,"t":17.83,"v":111},{"k":"tr","panel":"D","s":"2","o":4,"t":19.06,"v":117},{"k":"tr","panel":"D","s":"2","o":5,"t":20.91,"v":121.3},{"k":"tr","panel":"D","s":"2","o":6,"t":23.37,"v":123.8},{"k":"tr","panel":"D","s":"2","o":7,"t":26.45,"v":125.1},
{"k":"tr","panel":"E","s":"1","o":1,"t":15.58,"v":121.1},{"k":"tr","panel":"E","s":"1","o":2,"t":16.3,"v":121.1},{"k":"tr","panel":"E","s":"1","o":3,"t":16.3,"v":123.2},{"k":"tr","panel":"E","s":"1","o":4,"t":16.49,"v":119.3},{"k":"tr","panel":"E","s":"1","o":5,"t":17.52,"v":109.2},{"k":"tr","panel":"E","s":"1","o":6,"t":19.04,"v":113.2},{"k":"tr","panel":"E","s":"1","o":7,"t":20.86,"v":117.6},{"k":"tr","panel":"E","s":"1","o":8,"t":23.29,"v":121.1},{"k":"tr","panel":"E","s":"1","o":9,"t":27.24,"v":123.7},
{"k":"tr","panel":"E","s":"2","o":1,"t":16.49,"v":119.3},{"k":"tr","panel":"E","s":"2","o":2,"t":17.45,"v":110},{"k":"tr","panel":"E","s":"2","o":3,"t":19.04,"v":113.6},{"k":"tr","panel":"E","s":"2","o":4,"t":20.86,"v":117.9},{"k":"tr","panel":"E","s":"2","o":5,"t":23.29,"v":121.3},{"k":"tr","panel":"E","s":"2","o":6,"t":27.24,"v":123.7},
{"k":"tr","panel":"F","s":"1","o":1,"t":15,"v":124.3},{"k":"tr","panel":"F","s":"1","o":2,"t":15.72,"v":124.3},{"k":"tr","panel":"F","s":"1","o":3,"t":15.72,"v":126.6},{"k":"tr","panel":"F","s":"1","o":4,"t":15.9,"v":122.2},{"k":"tr","panel":"F","s":"1","o":5,"t":16.8,"v":109.2},{"k":"tr","panel":"F","s":"1","o":6,"t":18.01,"v":112.6},{"k":"tr","panel":"F","s":"1","o":7,"t":19.22,"v":117.9},{"k":"tr","panel":"F","s":"1","o":8,"t":21.02,"v":122.2},{"k":"tr","panel":"F","s":"1","o":9,"t":23.43,"v":124.3},{"k":"tr","panel":"F","s":"1","o":10,"t":25.24,"v":125.2},
{"k":"tr","panel":"F","s":"2","o":1,"t":15.9,"v":122.2},{"k":"tr","panel":"F","s":"2","o":2,"t":16.69,"v":112.6},{"k":"tr","panel":"F","s":"2","o":3,"t":18.01,"v":116.1},{"k":"tr","panel":"F","s":"2","o":4,"t":19.22,"v":120.1},{"k":"tr","panel":"F","s":"2","o":5,"t":21.02,"v":123.1},{"k":"tr","panel":"F","s":"2","o":6,"t":23.43,"v":124.7},{"k":"tr","panel":"F","s":"2","o":7,"t":25.24,"v":125.2}
]},
"facet": {"field": "panel", "type": "nominal", "title": null, "header": {"title": null, "labelExpr": "''", "labelFontSize": 1, "labelPadding": 0}},
"spec": {
  "width": 273,
  "height": 190,
  "encoding": {
    "x": {"field": "t", "type": "quantitative", "scale": {"domain": [-10, 40], "nice": false, "zero": false}, "axis": {"title": "Time (min)", "values": [-10, 0, 10, 20, 30, 40], "labelExpr": "'' + datum.value"}},
    "y": {"field": "v", "type": "quantitative", "scale": {"domain": [40, 140], "nice": false, "zero": false}, "axis": {"title": "EPSC slope (% of baseline)", "values": [40, 60, 80, 100, 120, 140]}}
  },
  "layer": [
    {"transform": [{"filter": "datum.k == 'base'"}], "mark": {"type": "rule", "strokeDash": [2, 2.5], "strokeWidth": 1.5, "color": "black"}, "encoding": {"x2": {"field": "t2"}}},
    {"transform": [{"filter": "datum.k == 'bar'"}], "mark": {"type": "rule", "color": "black", "strokeWidth": 2.5}, "encoding": {"x2": {"field": "t2"}, "y2": {"field": "v2"}}},
    {"transform": [{"filter": "datum.k == 'sc'"}], "mark": {"type": "rule", "color": "black", "strokeWidth": 2}, "encoding": {"x2": {"field": "t2"}, "y2": {"field": "v2"}}},
    {"transform": [{"filter": "datum.k == 'sh'"}], "mark": {"type": "rule", "color": "black", "strokeWidth": 1.5}, "encoding": {"x2": {"field": "t2"}, "y2": {"field": "v2"}}},
    {"transform": [{"filter": "datum.k == 'head'"}], "mark": {"type": "point", "shape": "triangle-up", "filled": true, "color": "black", "size": 30, "opacity": 1}},
    {"transform": [{"filter": "datum.k == 'tr'"}], "mark": {"type": "line", "color": "black", "strokeWidth": 1.5}, "encoding": {"detail": {"field": "s"}, "order": {"field": "o", "type": "quantitative"}}},
    {"transform": [{"filter": "datum.k == 'pt'"}], "mark": {"type": "errorbar", "ticks": true, "size": 7, "thickness": 1.5, "color": "black"}, "encoding": {"yError": {"field": "e"}}},
    {"transform": [{"filter": "datum.k == 'pt'"}], "mark": {"type": "point", "shape": "circle", "filled": true, "stroke": "black", "strokeWidth": 1.5, "size": 62, "opacity": 1}, "encoding": {"fill": {"condition": {"test": "datum.panel == 'B' || datum.panel == 'D' || datum.panel == 'F'", "value": "black"}, "value": "white"}}},
    {"transform": [{"filter": "datum.k == 'ltr'"}], "mark": {"type": "text", "font": "Liberation Serif", "fontWeight": "bold", "fontSize": 20, "color": "black", "align": "left", "baseline": "middle"}, "encoding": {"text": {"field": "s"}}},
    {"transform": [{"filter": "datum.k == 'ttl'"}], "mark": {"type": "text", "font": "Liberation Serif", "fontWeight": "bold", "fontSize": 14.5, "color": "black", "align": "center", "baseline": "middle"}, "encoding": {"text": {"field": "s"}}},
    {"transform": [{"filter": "datum.k == 'dcg' || datum.k == 'n'"}], "mark": {"type": "text", "font": "Liberation Serif", "fontWeight": "bold", "fontSize": 15, "color": "black", "align": "center", "baseline": "middle"}, "encoding": {"text": {"field": "s"}}},
    {"transform": [{"filter": "datum.k == 'al'"}], "mark": {"type": "text", "font": "Liberation Serif", "fontWeight": "bold", "fontSize": 13, "color": "black", "align": "center", "baseline": "middle"}, "encoding": {"text": {"field": "s"}}},
    {"transform": [{"filter": "datum.k == 'sb'"}], "mark": {"type": "text", "font": "Liberation Serif", "fontWeight": "bold", "fontSize": 10.5, "color": "black", "align": "center", "baseline": "middle"}, "encoding": {"text": {"field": "s"}}},
    {"transform": [{"filter": "datum.k == 'tl'"}], "mark": {"type": "text", "font": "Liberation Serif", "fontWeight": "bold", "fontSize": 11, "color": "black", "align": "center", "baseline": "middle"}, "encoding": {"text": {"field": "s"}}}
  ]
},
"resolve": {"axis": {"x": "independent", "y": "independent"}},
"config": {
  "view": {"stroke": null},
  "header": {"labelExpr": "''", "labelFontSize": 1, "labelPadding": 0},
  "axis": {"grid": false, "domainColor": "black", "domainWidth": 2, "tickColor": "black", "tickWidth": 2, "tickSize": 5, "labelFont": "Liberation Serif", "labelFontSize": 15, "labelColor": "black", "labelFlush": false, "labelOverlap": false, "titleFont": "Liberation Serif", "titleFontWeight": "bold", "titleColor": "black"},
  "axisX": {"labelPadding": 9, "titleFontSize": 17, "titlePadding": 11},
  "axisY": {"labelPadding": 4, "titleFontSize": 18, "titlePadding": 8}
}
}
